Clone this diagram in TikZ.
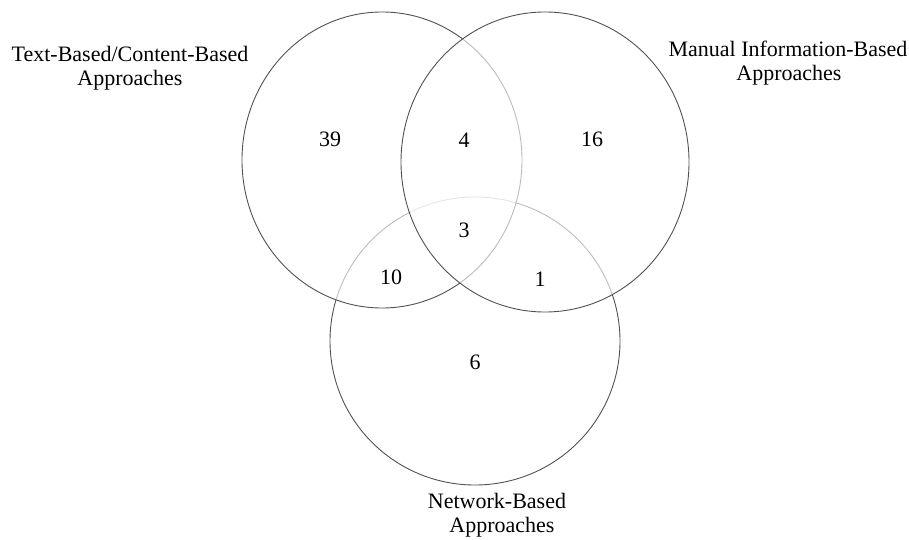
\documentclass[tikz,border=0pt]{standalone}
\usepackage{fontspec}
\setmainfont{Liberation Serif}
\begin{document}
\begin{tikzpicture}[x=1pt,y=-1pt,
  setline/.style={draw=black!68, line width=0.9pt, fill=white, fill opacity=0.62},
  lbl/.style={anchor=base, inner sep=0pt, font=\fontsize{22}{26}\selectfont},
  num/.style={anchor=base, inner sep=0pt, font=\fontsize{22}{26}\selectfont}]
\useasboundingbox (0,0) rectangle (909,540);
% drawing order: network, text-based, manual
\path[setline] (475,341) ellipse [x radius=145, y radius=144];
\path[setline] (382,160) ellipse [x radius=140, y radius=148];
\path[setline] (545,162) ellipse [x radius=144, y radius=150];
% labels
\node[lbl] (tb1) at (130,62) {Text-Based/Content-Based};
\node[lbl] (tb2) at (130,86) {Approaches};
\node[lbl] (mi1) at (788,57) {Manual Information-Based};
\node[lbl] (mi2) at (789,81) {Approaches};
\node[lbl] (nb1) at (497,508) {Network-Based};
\node[lbl] (nb2) at (502,532) {Approaches};
% counts
\node[num] (n39) at (330,147) {39};
\node[num] (n4)  at (464,148) {4};
\node[num] (n16) at (592,147) {16};
\node[num] (n3)  at (464,237) {3};
\node[num] (n10) at (391,284) {10};
\node[num] (n1)  at (540,286) {1};
\node[num] (n6)  at (475,369) {6};
\end{tikzpicture}
\end{document}
